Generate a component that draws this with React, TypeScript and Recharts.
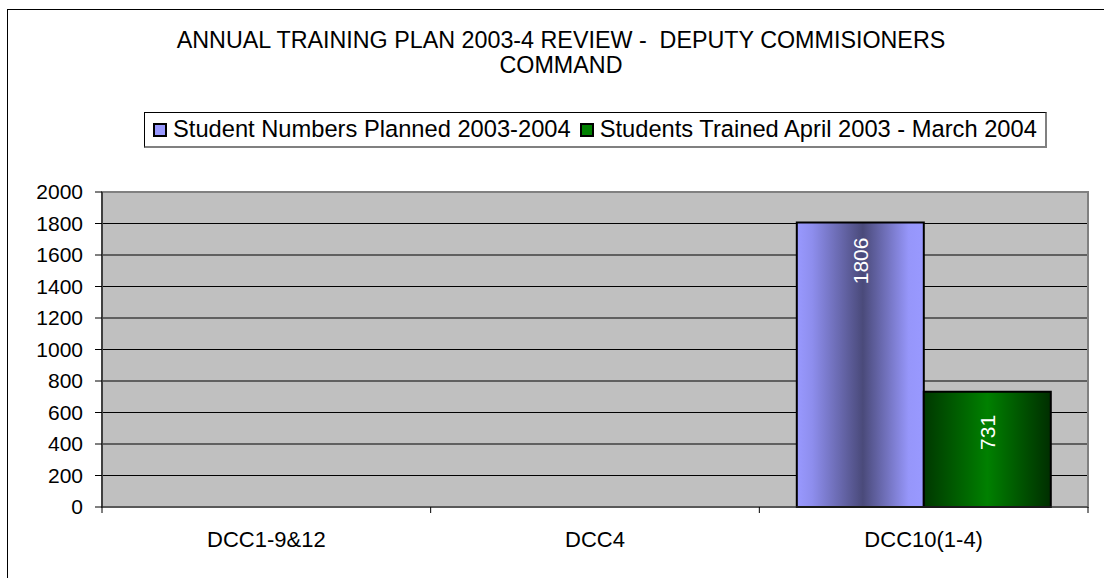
import { BarChart, Bar, XAxis, YAxis, CartesianGrid, LabelList, ReferenceArea } from "recharts";

const categories = ["DCC1-9&12", "DCC4", "DCC10(1-4)"];
const planned = [null, null, 1806];
const trained = [null, null, 731];
const yTicks = [0, 200, 400, 600, 800, 1000, 1200, 1400, 1600, 1800, 2000];

const seriesNames = ["Student Numbers Planned 2003-2004", "Students Trained April 2003 - March 2004"];
const swatch = ["#9999FF", "#008000"];

const data = categories.map((name, i) => ({
  name,
  planned: planned[i],
  trained: trained[i],
}));

const font = "'Liberation Sans', Arial, sans-serif";

function CategoryTick(props: any) {
  const { x, y, payload, index } = props;
  const off = payload?.offset ?? 0;
  return (
    <g>
      <line x1={x - off} x2={x - off} y1={y} y2={y + 6} stroke="#000" />
      {index === categories.length - 1 && (
        <line x1={x + off} x2={x + off} y1={y} y2={y + 6} stroke="#000" />
      )}
      <text x={x} y={y} dy={40} textAnchor="middle" fontSize={22} fontFamily={font} fill="#000">
        {payload.value}
      </text>
    </g>
  );
}

const barLabel = (gap: number) => (props: any) => {
  const { x, y, width, value } = props;
  if (value == null) return null;
  const cx = x + width / 2;
  const ty = y + gap;
  return (
    <text
      x={cx}
      y={ty}
      transform={`rotate(-90, ${cx}, ${ty})`}
      textAnchor="end"
      dominantBaseline="central"
      fill="#fff"
      fontSize={21}
      fontFamily={font}
    >
      {value}
    </text>
  );
};

export default function App() {
  return (
    <div style={{ position: "absolute", left: 0, top: 0, width: 1104, height: 578, background: "#fff", overflow: "hidden", fontFamily: font }}>
      <div style={{ position: "absolute", left: 7, top: 9, width: 1200, height: 700, borderLeft: "1px solid #000", borderTop: "1px solid #000" }} />
      <div style={{ position: "absolute", left: 7, top: 28, width: 1108, textAlign: "center", fontSize: 23.3, lineHeight: "25px", color: "#000" }}>
        ANNUAL TRAINING PLAN 2003-4 REVIEW -&nbsp; DEPUTY COMMISIONERS
        <br />
        COMMAND
      </div>
      <div
        style={{
          position: "absolute",
          left: 144,
          top: 112,
          width: 903,
          height: 36,
          border: "1px solid #000",
          borderRight: "2px solid #808080",
          borderBottom: "2px solid #808080",
          display: "flex",
          alignItems: "center",
          paddingLeft: 8,
          boxSizing: "border-box",
          fontSize: 23.7,
          whiteSpace: "nowrap",
        }}
      >
        {seriesNames.map((n, i) => (
          <div key={n} style={{ display: "flex", alignItems: "center", marginRight: 9 }}>
            <span style={{ width: 14, height: 14, background: swatch[i], border: "2px solid #000", boxSizing: "border-box", marginRight: 6 }} />
            <span>{n}</span>
          </div>
        ))}
      </div>
      <BarChart
        width={1104}
        height={578}
        data={data}
        margin={{ top: 192, right: 16, bottom: 21, left: 22 }}
        barCategoryGap="11.4%"
        barGap={0}
        style={{ position: "absolute", left: 0, top: 0 }}
      >
        <defs>
          <linearGradient id="gradPlanned" x1="0" y1="0" x2="1" y2="0">
            <stop offset="0" stopColor="#9999FF" />
            <stop offset="0.12" stopColor="#8E8EEE" />
            <stop offset="0.52" stopColor="#4A4A7A" />
            <stop offset="0.88" stopColor="#9696FA" />
            <stop offset="1" stopColor="#9999FF" />
          </linearGradient>
          <linearGradient id="gradTrained" x1="0" y1="0" x2="1" y2="0">
            <stop offset="0" stopColor="#003800" />
            <stop offset="0.5" stopColor="#008000" />
            <stop offset="1" stopColor="#002E00" />
          </linearGradient>
        </defs>
        <CartesianGrid vertical={false} stroke="#000" fill="#C0C0C0" fillOpacity={1} />
        <ReferenceArea y1={0} y2={2000} fill="none" stroke="#808080" strokeWidth={2} />
        <XAxis
          dataKey="name"
          height={50}
          tickSize={0}
          tickMargin={0}
          tick={<CategoryTick />}
          axisLine={{ stroke: "#333" }}
          interval={0}
        />
        <YAxis
          width={80}
          domain={[0, 2000]}
          ticks={yTicks}
          interval={0}
          tickSize={7}
          tickMargin={12}
          axisLine={{ stroke: "#000" }}
          tickLine={{ stroke: "#000" }}
          tick={{ fontSize: 21, fill: "#000", fontFamily: font }}
        />
        <Bar dataKey="planned" name={seriesNames[0]} fill="url(#gradPlanned)" stroke="#000" strokeWidth={2} isAnimationActive={false}>
          <LabelList dataKey="planned" content={barLabel(15)} />
        </Bar>
        <Bar dataKey="trained" name={seriesNames[1]} fill="url(#gradTrained)" stroke="#000" strokeWidth={2} isAnimationActive={false}>
          <LabelList dataKey="trained" content={barLabel(23)} />
        </Bar>
      </BarChart>
    </div>
  );
}
